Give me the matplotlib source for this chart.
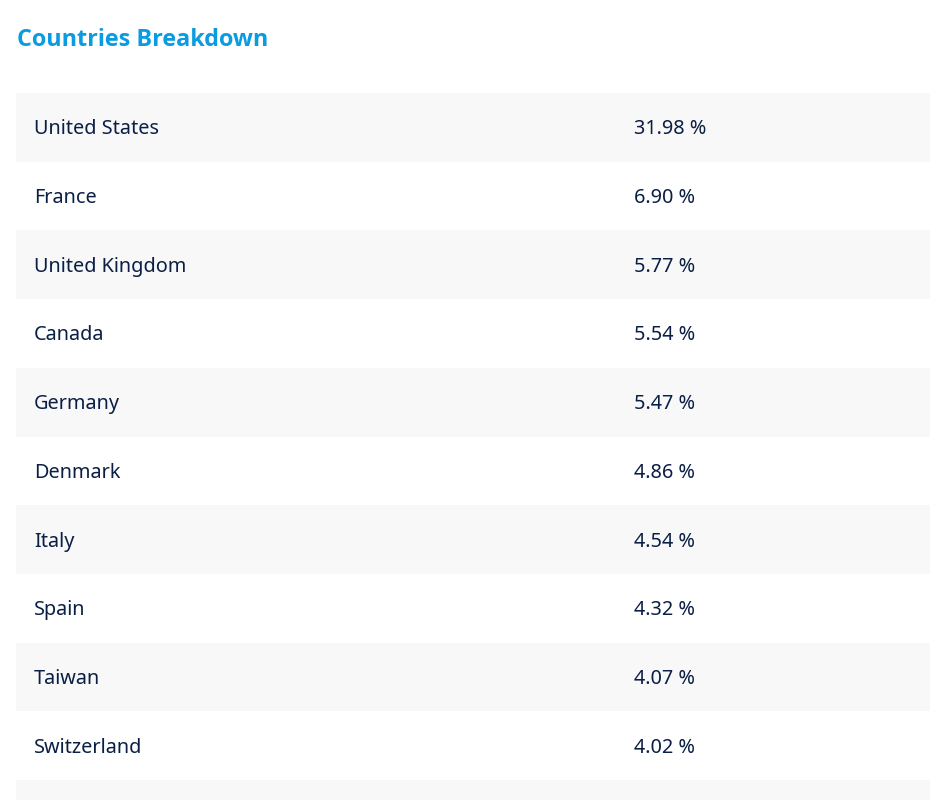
import matplotlib
matplotlib.use("Agg")
import matplotlib.pyplot as plt
from matplotlib.patches import Rectangle

countries = ["United States", "France", "United Kingdom", "Canada", "Germany",
             "Denmark", "Italy", "Spain", "Taiwan", "Switzerland"]
shares = [31.98, 6.90, 5.77, 5.54, 5.47, 4.86, 4.54, 4.32, 4.07, 4.02]
title = "Countries Breakdown"

W, H = 930, 800
fig = plt.figure(figsize=(W / 100, H / 100), dpi=100)
ax = fig.add_axes([0, 0, 1, 1])
ax.set_xlim(0, W)
ax.set_ylim(H, 0)
ax.axis("off")
fig.patch.set_facecolor("white")

font = ["Noto Sans", "DejaVu Sans"]
title_font = ["Open Sans", "Noto Sans", "DejaVu Sans"]
text_color = "#0b1f45"
band_color = "#f8f8f8"

top = 93
row_h = 68.7
left = 16

ax.text(17, 40, title, fontsize=16.8, fontweight="bold", color="#0a9be0",
        family=title_font, va="center", ha="left")

n = len(countries)
for i in range(n + 1):
    y0 = top + i * row_h
    if i % 2 == 0:
        ax.add_patch(Rectangle((left, y0), W - left, row_h, facecolor=band_color,
                               edgecolor="none"))

for i, (c, v) in enumerate(zip(countries, shares)):
    yc = top + i * row_h + row_h / 2 + 2
    ax.text(34, yc, c, fontsize=14.3, color=text_color, family=font,
            va="center", ha="left")
    ax.text(634, yc, f"{v:.2f} %", fontsize=14.3, color=text_color, family=font,
            va="center", ha="left")

fig.savefig("out.png", dpi=100, facecolor="white")
